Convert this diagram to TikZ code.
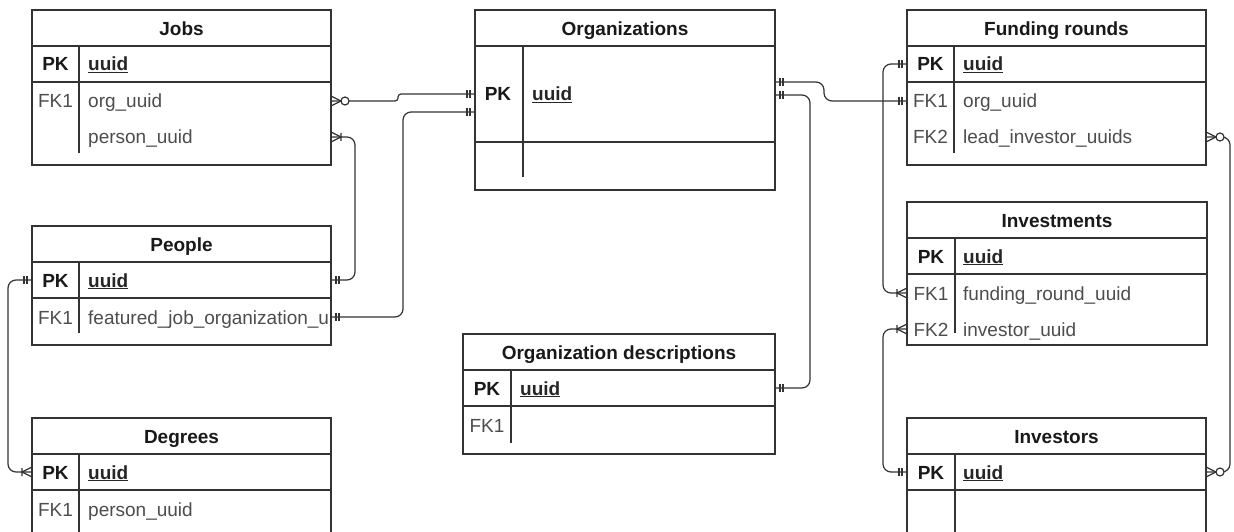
\documentclass[tikz,border=0pt]{standalone}
\usepackage{fontspec}
\setmainfont{Liberation Sans}
\definecolor{linegray}{HTML}{333333}
\definecolor{textgray}{HTML}{4D4D4D}

\tikzset{
  ln/.style={draw=linegray, line width=1.2pt},
  tbl/.style={ln, inner sep=0pt, outer sep=0pt},
  txt/.style={inner sep=0pt, text height=17pt, text depth=3pt, font=\fontsize{19}{22}\selectfont},
  ttl/.style={txt, font=\fontsize{19}{22}\selectfont\bfseries, text=black!90},
  key/.style={txt, font=\fontsize{19}{22}\selectfont\bfseries, text=black!90},
  fk/.style={txt, text=textgray},
  fld/.style={txt, text=textgray, anchor=west},
  pkfld/.style={txt, font=\fontsize{19}{22}\selectfont\bfseries, text=black!85, anchor=west},
  conn/.style={ln, rounded corners=8pt},
  pics/onlyone/.style={code={\draw[ln] (5,-4) -- (5,4) (8,-4) -- (8,4);}},
  pics/onemany/.style={code={\draw[ln] (0,-5) -- (10,0) -- (0,5) (10,-4) -- (10,4);}},
  pics/zeromany/.style={code={\draw[ln] (0,-5) -- (10,0) -- (0,5);
      \draw[ln, fill=white] (14,0) circle (4);}},
}

\begin{document}
\begin{tikzpicture}[x=1pt, y=-1pt]
  \clip (0,0) rectangle (1234,532);
  \fill[white] (0,0) rectangle (1234,532);

  % tables
  \node[tbl, minimum width=299pt, minimum height=155pt] (jobs) at (181.5,87.5) {};
  \draw[ln] (32,46) -- (331,46) (32,82) -- (331,82) (79,46) -- (79,153);
  \node[ttl] (jobs-t) at (181.5,28.5) {Jobs};
  \node[key] at (55.5,64) {PK};
  \node[pkfld] (jobs-pk) at (88,64) {\underline{uuid}};
  \node[fk] at (55.5,101) {FK1};
  \node[fld] (jobs-org) at (88,101) {org\_uuid};
  \node[fld] (jobs-person) at (88,137) {person\_uuid};

  \node[tbl, minimum width=300pt, minimum height=180pt] (orgs) at (625,100) {};
  \draw[ln] (475,46) -- (775,46) (475,142) -- (775,142) (523,46) -- (523,177);
  \node[ttl] (orgs-t) at (625,28.5) {Organizations};
  \node[key] at (498,94) {PK};
  \node[pkfld] (orgs-pk) at (532,94) {\underline{uuid}};

  \node[tbl, minimum width=299pt, minimum height=155pt] (funding) at (1056.5,87.5) {};
  \draw[ln] (907,46) -- (1206,46) (907,82) -- (1206,82) (954,46) -- (954,153);
  \node[ttl] (funding-t) at (1056.5,28.5) {Funding rounds};
  \node[key] at (930.5,64) {PK};
  \node[pkfld] (funding-pk) at (963,64) {\underline{uuid}};
  \node[fk] at (930.5,101) {FK1};
  \node[fld] (funding-org) at (963,101) {org\_uuid};
  \node[fk] at (930.5,137) {FK2};
  \node[fld] (funding-lead) at (963,137) {lead\_investor\_uuids};

  \node[tbl, minimum width=299pt, minimum height=119pt] (people) at (181.5,285.5) {};
  \draw[ln] (32,262) -- (331,262) (32,298) -- (331,298) (79,262) -- (79,333);
  \node[ttl] (people-t) at (181.5,244.5) {People};
  \node[key] at (55.5,280) {PK};
  \node[pkfld] (people-pk) at (88,280) {\underline{uuid}};
  \node[fk] at (55.5,317) {FK1};
  \node[fld] (people-fk) at (88,317) {featured\_job\_organization\_u};

  \node[tbl, minimum width=300pt, minimum height=143pt] (investments) at (1057,273.5) {};
  \draw[ln] (907,238) -- (1207,238) (907,274) -- (1207,274) (955,238) -- (955,333);
  \node[ttl] (investments-t) at (1057,220.5) {Investments};
  \node[key] at (931,256) {PK};
  \node[pkfld] (invest-pk) at (963,256) {\underline{uuid}};
  \node[fk] at (931,293) {FK1};
  \node[fld] (invest-fund) at (963,293) {funding\_round\_uuid};
  \node[fk] at (931,329) {FK2};
  \node[fld] (invest-inv) at (963,329) {investor\_uuid};

  \node[tbl, minimum width=312pt, minimum height=120pt] (descs) at (619,394) {};
  \draw[ln] (463,370) -- (775,370) (463,406) -- (775,406) (511,370) -- (511,443);
  \node[ttl] (descs-t) at (619,352.5) {Organization descriptions};
  \node[key] at (487,388) {PK};
  \node[pkfld] (descs-pk) at (520,388) {\underline{uuid}};
  \node[fk] at (487,425) {FK1};

  \node[tbl, minimum width=299pt, minimum height=142pt] (degrees) at (181.5,489) {};
  \draw[ln] (32,454) -- (331,454) (32,490) -- (331,490) (79,454) -- (79,548);
  \node[ttl] (degrees-t) at (181.5,436.5) {Degrees};
  \node[key] at (55.5,472) {PK};
  \node[pkfld] (degrees-pk) at (88,472) {\underline{uuid}};
  \node[fk] at (55.5,509) {FK1};
  \node[fld] (degrees-fk) at (88,509) {person\_uuid};

  \node[tbl, minimum width=299pt, minimum height=142pt] (investors) at (1056.5,489) {};
  \draw[ln] (907,454) -- (1206,454) (907,490) -- (1206,490) (955,454) -- (955,548);
  \node[ttl] (investors-t) at (1056.5,436.5) {Investors};
  \node[key] at (931,472) {PK};
  \node[pkfld] (investors-pk) at (963,472) {\underline{uuid}};

  % relations
  \draw[conn, rounded corners=3pt] (jobs.east |- jobs-org) -- ++(67,0) |- (orgs.west |- orgs-pk);
  \draw[conn] (jobs.east |- jobs-person) -- ++(24,0) |- (people.east |- people-pk);
  \draw[conn] (people.east |- people-fk) -- ++(72,0) |- ([yshift=-18pt]orgs.west |- orgs-pk);
  \draw[conn] (people.west |- people-pk) -- ++(-24,0) |- (degrees.west |- degrees-pk);
  \draw[conn] ([yshift=12pt]orgs.east |- orgs-pk) -- ++(49,0) |- (funding.west |- funding-org);
  \draw[conn] ([yshift=-1pt]orgs.east |- orgs-pk) -- ++(35,0) |- (descs.east |- descs-pk);
  \draw[conn] (funding.west |- funding-pk) -- ++(-24,0) |- (investments.west |- invest-fund);
  \draw[conn] (investors.west |- investors-pk) -- ++(-24,0) |- (investments.west |- invest-inv);
  \draw[conn] (funding.east |- funding-lead) -- ++(24,0) |- (investors.east |- investors-pk);

  % ends
  \pic at (jobs.east |- jobs-org) {zeromany};
  \pic[rotate=180] at (orgs.west |- orgs-pk) {onlyone};
  \pic at (jobs.east |- jobs-person) {onemany};
  \pic at (people.east |- people-pk) {onlyone};
  \pic at (people.east |- people-fk) {onlyone};
  \pic[rotate=180] at ([yshift=-18pt]orgs.west |- orgs-pk) {onlyone};
  \pic[rotate=180] at (people.west |- people-pk) {onlyone};
  \pic[rotate=180] at (degrees.west |- degrees-pk) {onemany};
  \pic at ([yshift=12pt]orgs.east |- orgs-pk) {onlyone};
  \pic[rotate=180] at (funding.west |- funding-org) {onlyone};
  \pic at ([yshift=-1pt]orgs.east |- orgs-pk) {onlyone};
  \pic at (descs.east |- descs-pk) {onlyone};
  \pic[rotate=180] at (funding.west |- funding-pk) {onlyone};
  \pic[rotate=180] at (investments.west |- invest-fund) {onemany};
  \pic[rotate=180] at (investors.west |- investors-pk) {onlyone};
  \pic[rotate=180] at (investments.west |- invest-inv) {onemany};
  \pic at (funding.east |- funding-lead) {zeromany};
  \pic at (investors.east |- investors-pk) {zeromany};
\end{tikzpicture}
\end{document}
